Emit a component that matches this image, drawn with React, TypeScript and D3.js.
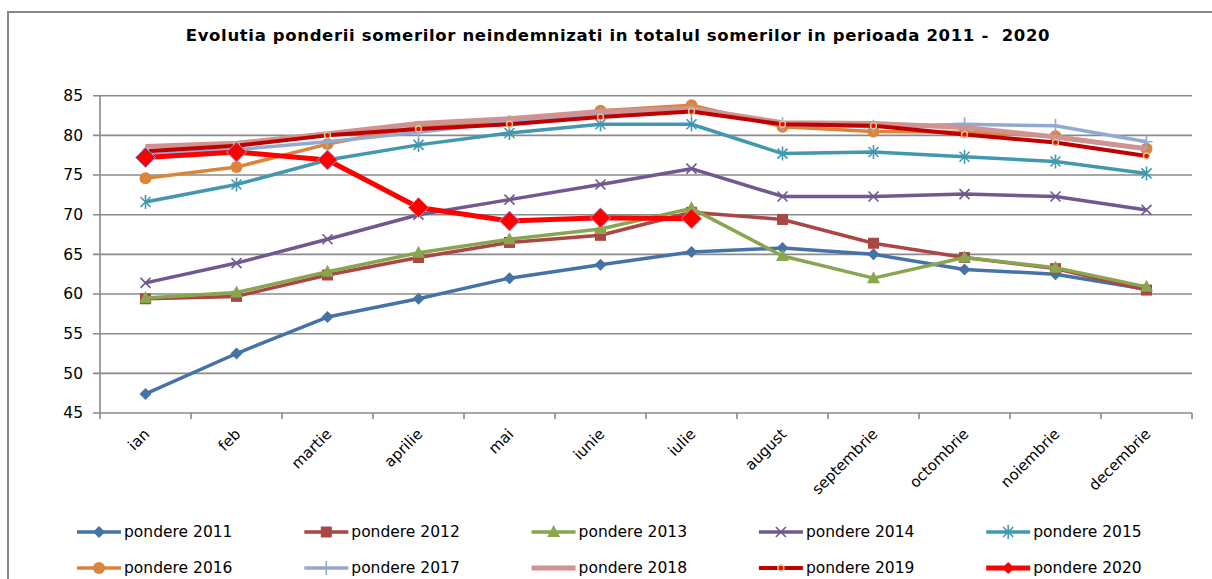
import React from "react"
import * as d3 from "d3"

const months = ["ian", "feb", "martie", "aprilie", "mai", "iunie", "iulie", "august", "septembrie", "octombrie", "noiembrie", "decembrie"]
const yTicks = [45, 50, 55, 60, 65, 70, 75, 80, 85]

const p2011 = [47.4, 52.5, 57.1, 59.4, 62.0, 63.7, 65.3, 65.8, 65.0, 63.1, 62.5, 60.6]
const p2012 = [59.4, 59.7, 62.4, 64.6, 66.5, 67.4, 70.3, 69.4, 66.4, 64.6, 63.2, 60.5]
const p2013 = [59.5, 60.2, 62.8, 65.2, 66.9, 68.2, 70.8, 64.8, 62.0, 64.6, 63.3, 60.9]
const p2014 = [61.4, 63.9, 66.9, 70.0, 71.9, 73.8, 75.8, 72.3, 72.3, 72.6, 72.3, 70.6]
const p2015 = [71.6, 73.8, 76.9, 78.8, 80.3, 81.4, 81.4, 77.7, 77.9, 77.3, 76.7, 75.2]
const p2016 = [74.6, 76.0, 78.9, 81.1, 81.7, 83.1, 83.8, 81.1, 80.5, 80.4, 79.9, 78.3]
const p2017 = [77.7, 78.2, 79.2, 80.4, 81.7, 82.7, 83.2, 81.4, 81.1, 81.4, 81.2, 79.2]
const p2018 = [78.6, 79.0, 80.2, 81.5, 82.1, 83.0, 83.4, 81.6, 81.5, 81.0, 79.8, 78.3]
const p2019 = [78.0, 78.7, 80.0, 80.8, 81.4, 82.3, 83.0, 81.4, 81.2, 80.1, 79.1, 77.4]
const p2020 = [77.2, 77.9, 76.9, 70.9, 69.2, 69.6, 69.5]

const seriesNames = ["pondere 2011", "pondere 2012", "pondere 2013", "pondere 2014", "pondere 2015", "pondere 2016", "pondere 2017", "pondere 2018", "pondere 2019", "pondere 2020"]
const seriesValues = [p2011, p2012, p2013, p2014, p2015, p2016, p2017, p2018, p2019, p2020]
const seriesColors = ["#4572A7", "#AA4643", "#89A54E", "#71588F", "#4198AF", "#DB843D", "#93A9CF", "#D19392", "#C00000", "#FF0000"]
const seriesMarkers = ["diamond", "square", "triangle", "x", "star", "circle", "plus", "none", "dot", "bigdiamond"]
const lineWidths = [3.5, 3.5, 3.5, 3.5, 3.5, 3.5, 3.5, 5, 4, 5]

const title = "Evolutia ponderii somerilor neindemnizati in totalul somerilor in perioada 2011 -  2020"
const font = "'DejaVu Sans', Verdana, sans-serif"
const gridColor = "#8a8a8a"

const Marker = ({ kind, color, x, y }: { kind: string; color: string; x: number; y: number }) => {
  const t = `translate(${x},${y})`
  switch (kind) {
    case "diamond":
      return <path transform={t} d="M0,-6L6,0L0,6L-6,0Z" fill={color} />
    case "square":
      return <rect transform={t} x={-5.5} y={-5.5} width={11} height={11} fill={color} />
    case "triangle":
      return <path transform={t} d="M0,-7L6.5,5L-6.5,5Z" fill={color} />
    case "x":
      return <path transform={t} d="M-5,-5L5,5M5,-5L-5,5" stroke={color} strokeWidth={1.6} fill="none" />
    case "star":
      return <path transform={t} d="M-5,-5L5,5M5,-5L-5,5M0,-7L0,7" stroke={color} strokeWidth={1.6} fill="none" />
    case "circle":
      return <circle transform={t} r={6} fill={color} />
    case "plus":
      return <path transform={t} d="M-6,0L6,0M0,-7L0,7" stroke={color} strokeWidth={1.6} fill="none" />
    case "dot":
      return <circle transform={t} r={3} fill="#FF0000" stroke="#C3D69B" strokeWidth={1.4} />
    case "bigdiamond":
      return <path transform={t} d="M0,-10L10,0L0,10L-10,0Z" fill="#FF0000" stroke="#9999DD" strokeWidth={1} />
    default:
      return null
  }
}

const App = () => {
  const width = 1212
  const height = 579
  const x = d3.scaleBand().domain(months).range([100, 1192])
  const y = d3.scaleLinear().domain([45, 85]).range([413, 95.7])
  const cx = (m: string) => (x(m) as number) + x.bandwidth() / 2
  const line = d3
    .line<number>()
    .x((_, i) => cx(months[i]))
    .y((d) => y(d))

  return (
    <div style={{ position: "absolute", left: 0, top: 0 }}>
      <svg width={width} height={height} style={{ display: "block", fontFamily: font }}>
        <rect x={0} y={0} width={width} height={height} fill="#fff" />
        <rect x={8} y={12} width={1300} height={700} fill="#fff" stroke="#868686" strokeWidth={2} />
        <text
          x={618}
          y={41}
          textAnchor="middle"
          fontWeight="bold"
          fontSize={16.5}
          letterSpacing={0.65}
          fill="#000"
          style={{ whiteSpace: "pre" }}
        >
          {title}
        </text>

        {yTicks.map((t) => (
          <g key={t}>
            <line x1={93} x2={1192} y1={y(t)} y2={y(t)} stroke={gridColor} strokeWidth={1.6} />
            <text x={83} y={y(t)} dy="0.35em" textAnchor="end" fontSize={15.5} fill="#000">
              {t}
            </text>
          </g>
        ))}
        <line x1={100} x2={100} y1={y(85)} y2={y(45) + 6} stroke={gridColor} strokeWidth={1.6} />
        {months.map((m) => (
          <line key={m} x1={x(m)! + x.bandwidth()} x2={x(m)! + x.bandwidth()} y1={y(45)} y2={y(45) + 6} stroke={gridColor} strokeWidth={1.6} />
        ))}
        {months.map((m) => (
          <text
            key={m}
            transform={`translate(${cx(m) + 5},${y(45) + 22}) rotate(-45)`}
            textAnchor="end"
            fontSize={15}
            fill="#000"
          >
            {m}
          </text>
        ))}

        {seriesValues.map((vals, s) => (
          <g key={seriesNames[s]}>
            <path d={line(vals) || ""} fill="none" stroke={seriesColors[s]} strokeWidth={lineWidths[s]} strokeLinejoin="round" />
            {vals.map((v, i) => (
              <Marker key={i} kind={seriesMarkers[s]} color={seriesColors[s]} x={cx(months[i])} y={y(v)} />
            ))}
          </g>
        ))}

        {seriesNames.map((name, s) => {
          const lx = 77 + (s % 5) * 227.3
          const ly = s < 5 ? 532 : 568
          return (
            <g key={name}>
              <line x1={lx} x2={lx + 44} y1={ly} y2={ly} stroke={seriesColors[s]} strokeWidth={lineWidths[s]} />
              <Marker kind={seriesMarkers[s] === "bigdiamond" ? "diamond" : seriesMarkers[s]} color={seriesColors[s]} x={lx + 22} y={ly} />
              <text x={lx + 47} y={ly} dy="0.35em" fontSize={15.5} fill="#000">
                {name}
              </text>
            </g>
          )
        })}
      </svg>
    </div>
  )
}

export default App
